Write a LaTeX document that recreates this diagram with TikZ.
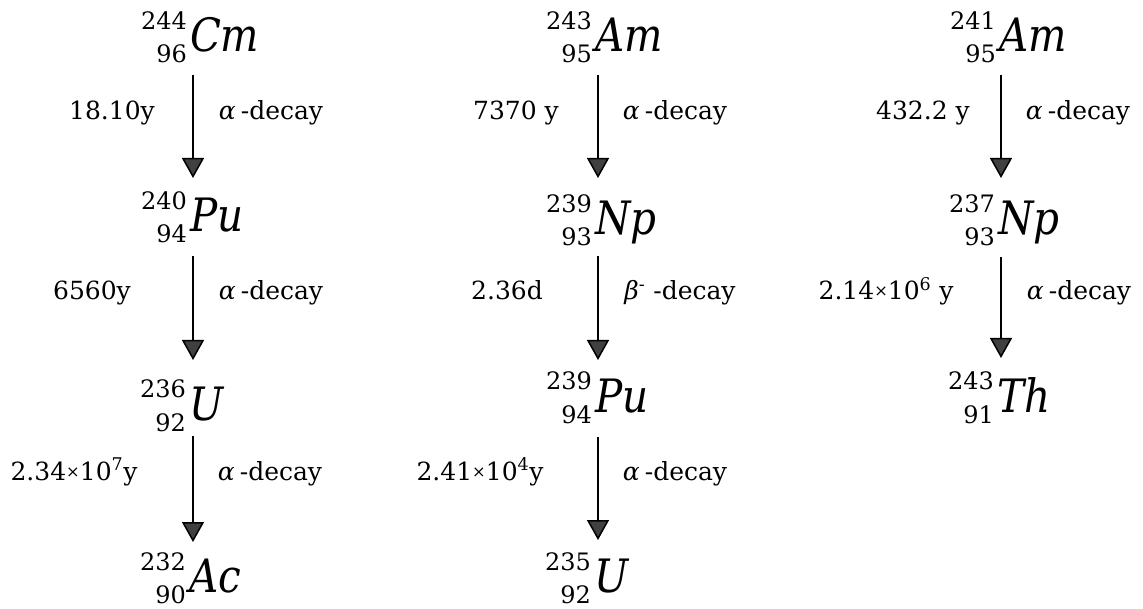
\documentclass[tikz,border=0pt]{standalone}
\usepackage{fontspec}
\setmainfont{DejaVu Serif}
\newfontfamily\elfont[FakeStretch=0.88]{DejaVu Serif}
\usepackage{graphicx}
\usetikzlibrary{arrows.meta,calc}
\newcommand\nuc[3]{{\fontsize{24}{33}\selectfont\raisebox{-11pt}{\begin{tabular}[b]{@{}r@{}}#1\\#2\end{tabular}}}\hspace{3pt}{\elfont\fontsize{46}{46}\selectfont\itshape #3}}
\newcommand\tms{\raisebox{0.12em}{\scalebox{0.65}{×}}}
\newcommand\adecay{\textit{α}\hspace{5pt}-decay}
\begin{document}
\begin{tikzpicture}[x=1pt,y=-1pt,
  nuclide/.style={inner sep=0pt, anchor=base west},
  lbl/.style={inner sep=0pt, anchor=base, font=\fontsize{25}{30}\selectfont},
  decay/.style={line width=1.5pt, -{Triangle[width=22pt,length=20pt,fill=black!75]}}]
\useasboundingbox (0,0) rectangle (1143,609);
\coordinate (c1) at (193,0);
\coordinate (c2) at (598,0);
\coordinate (c3) at (1001,0);
% nuclides
\node[nuclide] (cm244) at (141,52) {\nuc{244}{96}{Cm}};
\node[nuclide] (pu240) at (141,232) {\nuc{240}{94}{Pu}};
\node[nuclide] (u236) at (140,420) {\nuc{236}{92}{U}};
\node[nuclide] (ac232) at (140,592) {\nuc{232}{90}{Ac}};
\node[nuclide] (am243) at (546,52) {\nuc{243}{95}{Am}};
\node[nuclide] (np239) at (546,235) {\nuc{239}{93}{Np}};
\node[nuclide] (pu239) at (546,412) {\nuc{239}{94}{Pu}};
\node[nuclide] (u235) at (545,592) {\nuc{235}{92}{U}};
\node[nuclide] (am241) at (950,52) {\nuc{241}{95}{Am}};
\node[nuclide] (np237) at (949,235) {\nuc{237}{93}{Np}};
\node[nuclide] (th243) at (948,412) {\nuc{243}{91}{Th}};
% arrows
\draw[decay] ($(cm244.base -| c1)+(0,23)$) -- ($(pu240.base -| c1)+(0,-54)$);
\draw[decay] ($(pu240.base -| c1)+(0,24)$) -- ($(u236.base -| c1)+(0,-60)$);
\draw[decay] ($(u236.base -| c1)+(0,16)$) -- ($(ac232.base -| c1)+(0,-50)$);
\draw[decay] ($(am243.base -| c2)+(0,23)$) -- ($(np239.base -| c2)+(0,-57)$);
\draw[decay] ($(np239.base -| c2)+(0,21)$) -- ($(pu239.base -| c2)+(0,-52)$);
\draw[decay] ($(pu239.base -| c2)+(0,25)$) -- ($(u235.base -| c2)+(0,-52)$);
\draw[decay] ($(am241.base -| c3)+(0,23)$) -- ($(np237.base -| c3)+(0,-57)$);
\draw[decay] ($(np237.base -| c3)+(0,22)$) -- ($(th243.base -| c3)+(0,-54)$);
% half-lives
\node[lbl] (h1) at (112,120) {18.10y};
\node[lbl] (h2) at (92,300) {6560y};
\node[lbl] (h3) at (74,480) {2.34\tms10\textsuperscript{7}y};
\node[lbl] (h4) at (516,120) {7370 y};
\node[lbl] (h5) at (507,300) {2.36d};
\node[lbl] (h6) at (480,480) {2.41\tms10\textsuperscript{4}y};
\node[lbl] (h7) at (923,120) {432.2 y};
\node[lbl] (h8) at (886,300) {2.14\tms10\textsuperscript{6} y};
% decay modes
\node[lbl] (d1) at (271,120) {\adecay};
\node[lbl] (d2) at (271,300) {\adecay};
\node[lbl] (d3) at (270,480) {\adecay};
\node[lbl] (d4) at (675,120) {\adecay};
\node[lbl] (d5) at (680,300) {\textit{β}\textsuperscript{-}\hspace{8pt}-decay};
\node[lbl] (d6) at (675,480) {\adecay};
\node[lbl] (d7) at (1078,120) {\adecay};
\node[lbl] (d8) at (1079,300) {\adecay};
\end{tikzpicture}
\end{document}
